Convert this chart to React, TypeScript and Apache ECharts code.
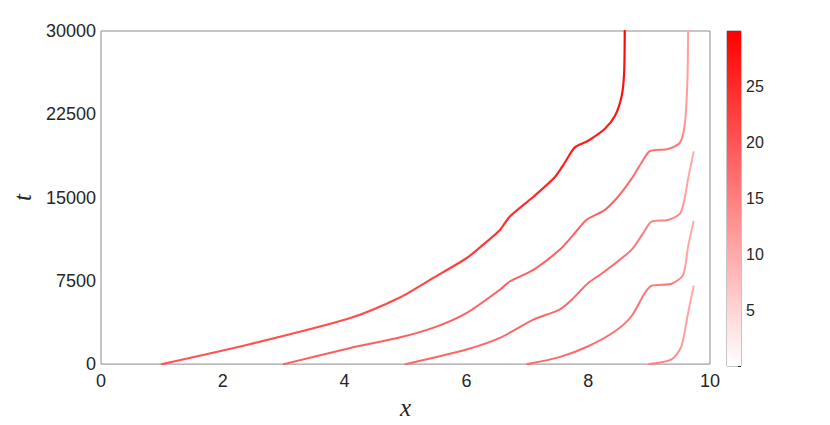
import React, { useEffect, useRef } from "react";
import * as echarts from "echarts";

// Trajectory 1 (starts at x = 1)
const xA = [1.0, 2.44, 4.08, 4.9, 5.45, 6.0, 6.27, 6.55, 6.71, 7.1, 7.45, 7.62, 7.78, 8.0, 8.27, 8.44, 8.55, 8.59, 8.6];
const tA = [0, 1790, 4130, 5980, 7740, 9530, 10730, 12080, 13270, 15070, 16830, 18180, 19520, 20120, 21170, 22360, 24150, 26250, 30000];
// Trajectory 2 (starts at x = 3)
const xB = [3.0, 4.08, 4.9, 5.45, 6.0, 6.55, 6.71, 7.1, 7.53, 7.73, 7.97, 8.27, 8.49, 8.71, 8.88, 9.01, 9.31, 9.51, 9.59, 9.63, 9.64];
const tB = [0, 1435, 2390, 3260, 4600, 6700, 7440, 8490, 10290, 11480, 12980, 13870, 15070, 16680, 18180, 19170, 19370, 19970, 21770, 25650, 30000];
// Trajectory 3 (starts at x = 5)
const xC = [5.0, 6.0, 6.55, 7.1, 7.53, 7.73, 8.0, 8.27, 8.71, 8.9, 9.04, 9.31, 9.51, 9.59, 9.64, 9.73];
const tC = [0, 1320, 2360, 4010, 4910, 5800, 7300, 8340, 10290, 11780, 12830, 12980, 13570, 15070, 16680, 19080];
// Trajectory 4 (starts at x = 7)
const xD = [7.0, 7.53, 8.0, 8.44, 8.71, 8.93, 9.04, 9.37, 9.56, 9.64, 9.73];
const tD = [0, 630, 1610, 2960, 4310, 6400, 7060, 7240, 8040, 10580, 12830];
// Trajectory 5 (starts at x = 9)
const xE = [9.0, 9.37, 9.53, 9.64, 9.73];
const tE = [0, 420, 1610, 4600, 7000];

// Density level along each trajectory: [t, value]
const levelA = [[0, 20], [8000, 22], [14000, 25], [20000, 27], [30000, 29]];
const levelB = [[0, 19], [12000, 19], [19000, 17], [22000, 12], [30000, 11]];
const levelC = [[0, 18], [8000, 18], [13000, 15], [15000, 11], [19080, 10]];
const levelD = [[0, 18], [7000, 16], [9000, 11], [12830, 10]];
const levelE = [[0, 15], [2000, 12], [7000, 10]];

const xTickMin = 0, xTickMax = 10, xTickStep = 2;
const tTickMin = 0, tTickMax = 30000, tTickStep = 7500;
const cMin = 0, cMax = 30, cStep = 5;

const colorOf = (v: number) => {
  const g = Math.round(255 * (1 - Math.max(0, Math.min(1, v / cMax))));
  return `rgb(255,${g},${g})`;
};

const gradientFor = (level: number[][], tArr: number[]) => {
  const tmax = Math.max(...tArr);
  const stops = level
    .map(([t, v]) => ({ offset: Math.max(0, Math.min(1, 1 - t / tmax)), color: colorOf(v) }))
    .sort((a, b) => a.offset - b.offset);
  return new echarts.graphic.LinearGradient(0, 0, 0, 1, stops);
};

const curve = (xs: number[], ts: number[], level: number[][], width: number) => ({
  type: "line",
  data: xs.map((x, i) => [x, ts[i]]),
  showSymbol: false,
  smooth: 0.25,
  silent: true,
  clip: true,
  lineStyle: { width, color: gradientFor(level, ts), cap: "round", join: "round" },
  xAxisIndex: 0,
  yAxisIndex: 0,
});

export default function App() {
  const ref = useRef<HTMLDivElement>(null);
  useEffect(() => {
    if (!ref.current) return;
    const chart = echarts.init(ref.current, undefined, { renderer: "svg" });
    const textColor = "#262626";
    const sans = "Liberation Sans, Arial, sans-serif";
    chart.setOption({
      animation: false,
      backgroundColor: "#ffffff",
      grid: [
        { left: 101, right: 120, top: 31, bottom: 59, show: true, borderColor: "#8c8c8c", borderWidth: 1, backgroundColor: "transparent" },
        { left: 727, width: 14, top: 31, bottom: 59, show: true, borderColor: "#8c8c8c", borderWidth: 1, backgroundColor: "transparent" },
      ],
      xAxis: [
        {
          type: "value", gridIndex: 0, min: xTickMin, max: xTickMax, interval: xTickStep,
          axisLine: { show: false }, axisTick: { show: false }, splitLine: { show: false },
          axisLabel: { color: textColor, fontSize: 18, fontFamily: sans, margin: 8 },
          name: "x", nameLocation: "middle", nameGap: 30,
          nameTextStyle: { fontFamily: "Liberation Serif, serif", fontStyle: "italic", fontSize: 25, color: textColor },
        },
        { type: "category", gridIndex: 1, data: ["c"], show: false },
      ],
      yAxis: [
        {
          type: "value", gridIndex: 0, min: tTickMin, max: tTickMax, interval: tTickStep,
          axisLine: { show: false }, axisTick: { show: false }, splitLine: { show: false },
          axisLabel: { color: textColor, fontSize: 18, fontFamily: sans, margin: 5, formatter: (v: number) => String(v) },
          name: "t", nameLocation: "middle", nameGap: 64, nameRotate: 90,
          nameTextStyle: { fontFamily: "Liberation Serif, serif", fontStyle: "italic", fontSize: 25, color: textColor },
        },
        {
          type: "value", gridIndex: 1, position: "right", min: cMin, max: cMax, interval: cStep,
          axisLine: { show: false }, splitLine: { show: false },
          axisTick: { show: true, inside: true, length: 3, lineStyle: { color: textColor } },
          axisLabel: {
            color: textColor, fontSize: 16, fontFamily: sans, margin: 5,
            formatter: (v: number) => (v === cMin || v === cMax ? "" : String(v)),
          },
        },
      ],
      series: [
        {
          type: "bar", xAxisIndex: 1, yAxisIndex: 1, data: [cMax], barWidth: "100%", silent: true,
          itemStyle: {
            color: new echarts.graphic.LinearGradient(0, 0, 0, 1, [
              { offset: 0, color: colorOf(cMax) },
              { offset: 1, color: colorOf(cMin) },
            ]),
          },
          z: 1,
        },
        curve(xE, tE, levelE, 2.0),
        curve(xD, tD, levelD, 2.0),
        curve(xC, tC, levelC, 2.0),
        curve(xB, tB, levelB, 2.0),
        curve(xA, tA, levelA, 2.2),
      ],
    });
    return () => chart.dispose();
  }, []);
  return <div ref={ref} style={{ position: "fixed", left: 0, top: 0, width: 830, height: 425 }} />;
}
